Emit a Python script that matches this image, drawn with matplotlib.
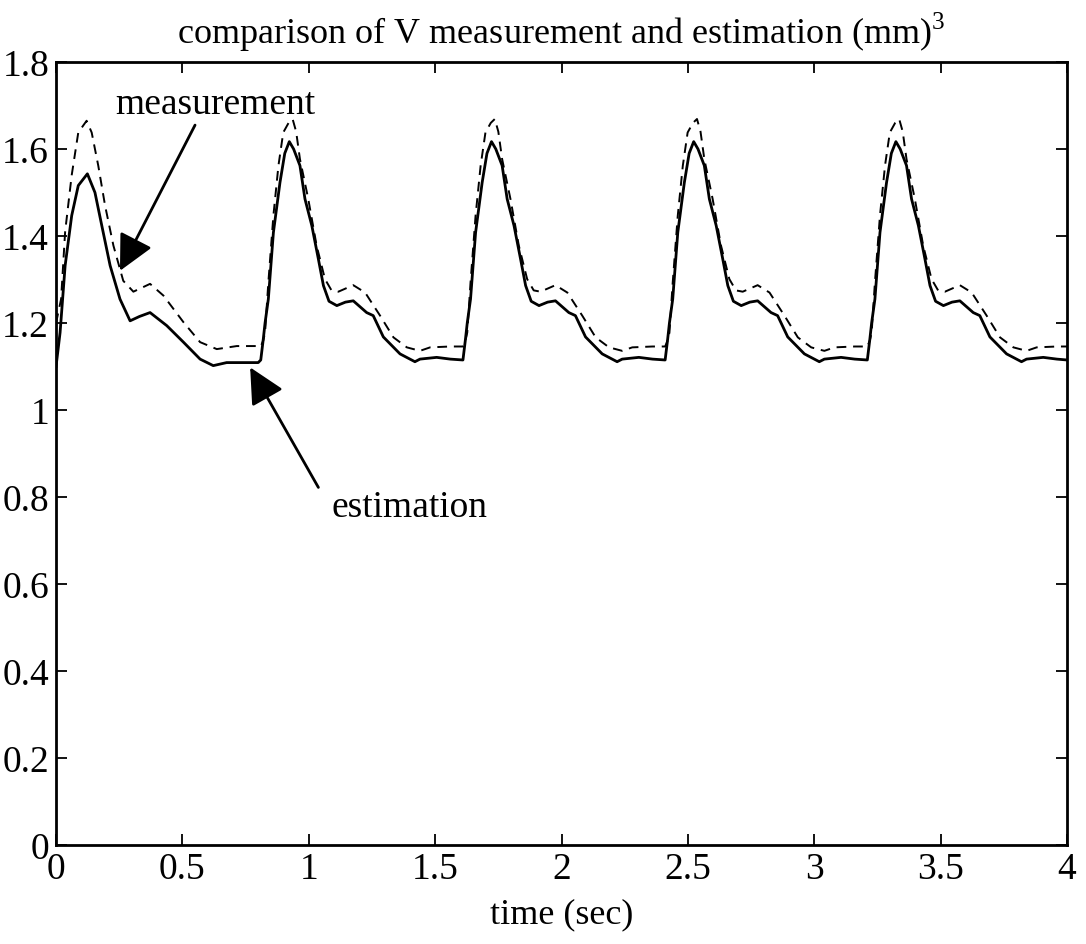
import numpy as np
import matplotlib
matplotlib.use("Agg")
import matplotlib.pyplot as plt

plt.rcParams['font.family'] = ['Liberation Serif', 'DejaVu Serif']
plt.rcParams['mathtext.fontset'] = 'custom'
plt.rcParams['mathtext.rm'] = 'Liberation Serif'

# ---------------- data ----------------
est_time = [
    0.000, 0.016, 0.036, 0.062, 0.088, 0.124, 0.154, 0.181, 0.214, 0.253, 0.293, 0.330, 0.372, 0.438, 0.504, 0.570, 0.622, 0.675, 0.800,
    0.810, 0.820, 0.827, 0.840, 0.860, 0.886, 0.905, 0.923, 0.940, 0.965, 0.985, 1.012, 1.038, 1.058, 1.080, 1.111, 1.145, 1.176, 1.229, 1.255, 1.295, 1.361, 1.420, 1.440, 1.506, 1.560,
    1.610, 1.620, 1.627, 1.640, 1.660, 1.686, 1.705, 1.723, 1.740, 1.765, 1.785, 1.812, 1.838, 1.858, 1.880, 1.911, 1.945, 1.976, 2.029, 2.055, 2.095, 2.161, 2.220, 2.240, 2.306, 2.360,
    2.410, 2.420, 2.427, 2.440, 2.460, 2.486, 2.505, 2.523, 2.540, 2.565, 2.585, 2.612, 2.638, 2.658, 2.680, 2.711, 2.745, 2.776, 2.829, 2.855, 2.895, 2.961, 3.020, 3.040, 3.106, 3.160,
    3.210, 3.220, 3.227, 3.240, 3.260, 3.286, 3.305, 3.323, 3.340, 3.365, 3.385, 3.412, 3.438, 3.458, 3.480, 3.511, 3.545, 3.576, 3.629, 3.655, 3.695, 3.761, 3.820, 3.840, 3.906, 3.960, 4.000,
]
est_value = [
    1.100, 1.178, 1.332, 1.447, 1.516, 1.543, 1.500, 1.424, 1.332, 1.255, 1.205, 1.215, 1.224, 1.194, 1.156, 1.117, 1.102, 1.109, 1.109,
    1.115, 1.163, 1.200, 1.255, 1.408, 1.523, 1.590, 1.617, 1.600, 1.562, 1.485, 1.424, 1.347, 1.286, 1.250, 1.240, 1.248, 1.251, 1.224, 1.217, 1.168, 1.129, 1.111, 1.117, 1.121, 1.117,
    1.115, 1.163, 1.200, 1.255, 1.408, 1.523, 1.590, 1.617, 1.600, 1.562, 1.485, 1.424, 1.347, 1.286, 1.250, 1.240, 1.248, 1.251, 1.224, 1.217, 1.168, 1.129, 1.111, 1.117, 1.121, 1.117,
    1.115, 1.163, 1.200, 1.255, 1.408, 1.523, 1.590, 1.617, 1.600, 1.562, 1.485, 1.424, 1.347, 1.286, 1.250, 1.240, 1.248, 1.251, 1.224, 1.217, 1.168, 1.129, 1.111, 1.117, 1.121, 1.117,
    1.115, 1.163, 1.200, 1.255, 1.408, 1.523, 1.590, 1.617, 1.600, 1.562, 1.485, 1.424, 1.347, 1.286, 1.250, 1.240, 1.248, 1.251, 1.224, 1.217, 1.168, 1.129, 1.111, 1.117, 1.121, 1.117, 1.115,
]

meas_time = [
    0.000, 0.020, 0.036, 0.062, 0.088, 0.121, 0.141, 0.167, 0.194, 0.227, 0.266, 0.306, 0.372, 0.425, 0.504, 0.570, 0.636, 0.715, 0.800,
    0.810, 0.820, 0.827, 0.840, 0.860, 0.880, 0.899, 0.920, 0.936, 0.950, 0.965, 0.998, 1.031, 1.064, 1.090, 1.117, 1.176, 1.223, 1.282, 1.335, 1.388, 1.440, 1.480, 1.560,
    1.610, 1.620, 1.627, 1.640, 1.660, 1.680, 1.699, 1.720, 1.736, 1.750, 1.765, 1.798, 1.831, 1.864, 1.890, 1.917, 1.976, 2.023, 2.082, 2.135, 2.188, 2.240, 2.280, 2.360,
    2.410, 2.420, 2.427, 2.440, 2.460, 2.480, 2.499, 2.520, 2.536, 2.550, 2.565, 2.598, 2.631, 2.664, 2.690, 2.717, 2.776, 2.823, 2.882, 2.935, 2.988, 3.040, 3.080, 3.160,
    3.210, 3.220, 3.227, 3.240, 3.260, 3.280, 3.299, 3.320, 3.336, 3.350, 3.365, 3.398, 3.431, 3.464, 3.490, 3.517, 3.576, 3.623, 3.682, 3.735, 3.788, 3.840, 3.880, 3.960, 4.000,
]
meas_value = [
    1.200, 1.255, 1.410, 1.540, 1.638, 1.665, 1.638, 1.562, 1.470, 1.378, 1.297, 1.272, 1.290, 1.263, 1.202, 1.156, 1.140, 1.147, 1.147,
    1.146, 1.160, 1.178, 1.293, 1.447, 1.562, 1.638, 1.660, 1.669, 1.640, 1.577, 1.485, 1.378, 1.301, 1.275, 1.272, 1.287, 1.270, 1.217, 1.167, 1.144, 1.136, 1.144, 1.146,
    1.146, 1.160, 1.178, 1.293, 1.447, 1.562, 1.638, 1.660, 1.669, 1.640, 1.577, 1.485, 1.378, 1.301, 1.275, 1.272, 1.287, 1.270, 1.217, 1.167, 1.144, 1.136, 1.144, 1.146,
    1.146, 1.160, 1.178, 1.293, 1.447, 1.562, 1.638, 1.660, 1.669, 1.640, 1.577, 1.485, 1.378, 1.301, 1.275, 1.272, 1.287, 1.270, 1.217, 1.167, 1.144, 1.136, 1.144, 1.146,
    1.146, 1.160, 1.178, 1.293, 1.447, 1.562, 1.638, 1.660, 1.669, 1.640, 1.577, 1.485, 1.378, 1.301, 1.275, 1.272, 1.287, 1.270, 1.217, 1.167, 1.144, 1.136, 1.144, 1.146, 1.146,
]

x_ticks = [0, 0.5, 1, 1.5, 2, 2.5, 3, 3.5, 4]
x_tick_labels = ['0', '0.5', '1', '1.5', '2', '2.5', '3', '3.5', '4']
y_ticks = [0, 0.2, 0.4, 0.6, 0.8, 1, 1.2, 1.4, 1.6, 1.8]
y_tick_labels = ['0', '0.2', '0.4', '0.6', '0.8', '1', '1.2', '1.4', '1.6', '1.8']

title_text = r'comparison of V measurement and estimation (mm)$^3$'
x_label = 'time (sec)'
meas_label = 'measurement'
est_label = 'estimation'

# ---------------- figure ----------------
fig = plt.figure(figsize=(10.86, 9.45), dpi=100)
ax = fig.add_axes([0.0516, 0.1048, 0.9309, 0.8285])

ax.plot(est_time, est_value, color='black', lw=2.0, ls='-')
ax.plot(meas_time, meas_value, color='black', lw=1.4, ls=(0, (5, 3.5)))

ax.set_xlim(0, 4)
ax.set_ylim(0, 1.8)
ax.set_xticks(x_ticks)
ax.set_xticklabels(x_tick_labels)
ax.set_yticks(y_ticks)
ax.set_yticklabels(y_tick_labels)
ax.tick_params(direction='in', top=True, right=True, length=8, width=1.3,
               labelsize=27, pad=5)
for s in ax.spines.values():
    s.set_linewidth(2)

ax.set_title(title_text, fontsize=26, pad=14)
ax.set_xlabel(x_label, fontsize=26, labelpad=8)

arrow_kw = dict(arrowstyle='-|>,head_length=1.1,head_width=0.55', color='black', lw=2,
                shrinkA=0, shrinkB=0, mutation_scale=20)
ax.annotate('', xy=(0.253, 1.320), xytext=(0.550, 1.655), arrowprops=arrow_kw)
ax.text(0.63, 1.705, meas_label, fontsize=27, ha='center', va='center')
ax.annotate('', xy=(0.768, 1.098), xytext=(1.038, 0.822), arrowprops=arrow_kw)
ax.text(1.40, 0.778, est_label, fontsize=27, ha='center', va='center')

fig.savefig('out.png', dpi=100)
